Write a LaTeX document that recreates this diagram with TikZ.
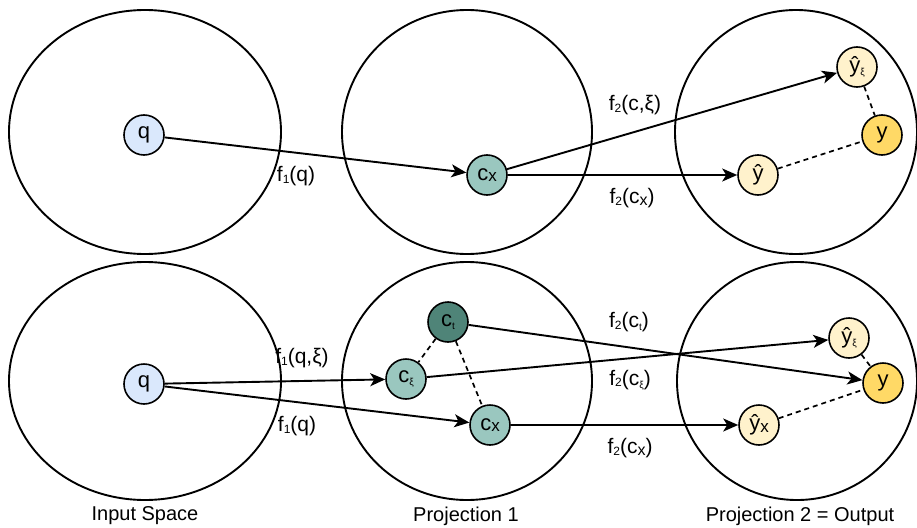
\documentclass[tikz,border=0pt]{standalone}
\usepackage{fontspec}
\setmainfont{Liberation Sans}
\usetikzlibrary{arrows.meta}
\definecolor{qblue}{HTML}{DAE8FC}
\definecolor{cteal}{HTML}{9AC7BF}
\definecolor{cdark}{HTML}{4F8478}
\definecolor{ylight}{HTML}{FFF2CC}
\definecolor{ygold}{HTML}{FFD966}
\newcommand{\lo}[1]{\raisebox{-0.3ex}{\fontsize{10}{10}\selectfont #1}}
\newcommand{\sx}[1]{\raisebox{-0.15ex}{\fontsize{17}{17}\selectfont #1}}
\newcommand{\ls}[1]{\raisebox{-0.15ex}{\fontsize{12}{12}\selectfont #1}}
\newcommand{\lx}[1]{\raisebox{-0.15ex}{\fontsize{16}{16}\selectfont #1}}
\begin{document}
\begin{tikzpicture}[x=1pt,y=-1pt,
  space/.style={draw, line width=1.9pt},
  dot/.style={circle, draw, line width=1.6pt, minimum size=40pt, inner sep=0pt, font=\fontsize{22}{26}\selectfont},
  qnode/.style={dot, fill=qblue},
  cnode/.style={dot, fill=cteal},
  ctnode/.style={dot, fill=cdark},
  yhnode/.style={dot, fill=ylight},
  ynode/.style={dot, fill=ygold},
  arr/.style={-{Stealth[length=15pt,width=13pt,inset=4pt]}, line width=1.9pt},
  lnk/.style={line width=1.7pt, dash pattern=on 5pt off 4pt},
  lab/.style={font=\fontsize{21}{25}\selectfont, inner sep=0pt},
  captext/.style={font=\fontsize{20}{24}\selectfont, inner sep=0pt}
]
\useasboundingbox (0,0) rectangle (917,527);
% spaces
\draw[space] (145,132) ellipse [x radius=136, y radius=122];
\draw[space] (467,132) ellipse [x radius=125, y radius=122];
\draw[space] (796,132) ellipse [x radius=121, y radius=122];
\draw[space] (145,381) ellipse [x radius=136, y radius=119];
\draw[space] (467,381) ellipse [x radius=125, y radius=119];
\draw[space] (797,381) ellipse [x radius=120, y radius=119];
% top row nodes
\node[qnode] (q1) at (144,135) {q};
\node[cnode] (cx1) at (487,175) {c\sx{x}};
\node[yhnode] (yx1) at (857,67) {ŷ\lo{ξ}};
\node[ynode] (y1) at (882,135) {y};
\node[yhnode] (yh1) at (758,175) {ŷ};
% bottom row nodes
\node[qnode] (q2) at (144,384) {q};
\node[ctnode] (ct2) at (448,322) {c\lo{t}};
\node[cnode] (cxi2) at (406,379) {c\lo{ξ}};
\node[cnode] (cx2) at (490,425) {c\sx{x}};
\node[yhnode] (yx2) at (849,338) {ŷ\lo{ξ}};
\node[ynode] (y2) at (883,383) {y};
\node[yhnode] (yhx2) at (759,425) {ŷ\sx{x}};
% dashed links
\draw[lnk] (yx1) -- (y1);
\draw[lnk] (yh1) -- (y1);
\draw[lnk] (ct2) -- (cxi2);
\draw[lnk] (ct2) -- (cx2);
\draw[lnk] (yx2) -- (y2);
\draw[lnk] (yhx2) -- (y2);
% arrows
\draw[arr] (q1) -- (cx1);
\draw[arr] (cx1) -- (yx1);
\draw[arr] (cx1) -- (yh1);
\draw[arr] (q2) -- (cxi2);
\draw[arr] (q2) -- (cx2);
\draw[arr] (ct2) -- (y2);
\draw[arr] (cxi2) -- (yx2);
\draw[arr] (cx2) -- (yhx2);
% labels
\node[lab] (l1) at (296,176) {f\ls{1}(q)};
\node[lab] (l2) at (635,105) {f\ls{2}(c,ξ)};
\node[lab] (l3) at (632,198) {f\ls{2}(c\lx{x})};
\node[lab] (l4) at (302,358) {f\ls{1}(q,ξ)};
\node[lab] (l5) at (297,426) {f\ls{1}(q)};
\node[lab] (l6) at (629,322) {f\ls{2}(c\lo{t})};
\node[lab] (l7) at (630,380) {f\ls{2}(c\lo{ξ})};
\node[lab] (l8) at (630,448) {f\ls{2}(c\lx{x})};
% captions
\node[captext] (t1) at (145,516) {Input Space};
\node[captext] (t2) at (466,516) {Projection 1};
\node[captext] (t3) at (800,516) {Projection 2 = Output};
\end{tikzpicture}
\end{document}
